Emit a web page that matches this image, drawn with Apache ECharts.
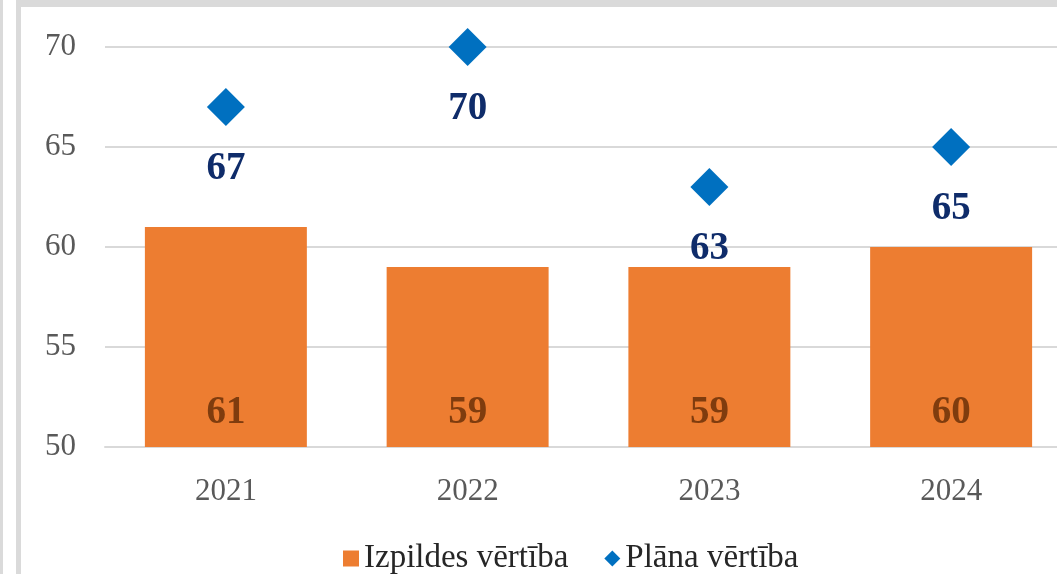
<!DOCTYPE html>
<html>
<head>
<meta charset="UTF-8">
<title>Izpildes un plāna vērtība</title>
<script src="https://cdn.jsdelivr.net/npm/echarts@6/dist/echarts.min.js"></script>
<style>
  html, body { margin: 0; padding: 0; background: #fff; }
  #main { width: 1057px; height: 574px; }
</style>
</head>
<body>
<div id="main"></div>
<script>
var years = ['2021', '2022', '2023', '2024'];
var actual = [61, 59, 59, 60];   // Izpildes vērtība
var plan = [67, 70, 63, 65];     // Plāna vērtība
var yTicks = { min: 50, max: 70, step: 5 };

var serif = "'Liberation Serif', 'Times New Roman', serif";
var myChart = echarts.init(document.getElementById('main'));

var option = {
  backgroundColor: '#fff',
  animation: false,
  // frame bits of the screenshot
  graphic: [
    { type: 'rect', shape: { x: 0, y: 0, width: 3, height: 574 }, style: { fill: '#dadada' } },
    { type: 'rect', shape: { x: 16, y: 0, width: 5, height: 574 }, style: { fill: '#dadada' } },
    { type: 'rect', shape: { x: 16, y: 0, width: 1041, height: 7 }, style: { fill: '#dadada' } }
  ],
  grid: {
    left: 105,
    right: -15,
    top: 47,
    bottom: 127,
    containLabel: false,
    outerBoundsMode: 'none'
  },
  legend: {
    left: 338,
    top: 537,
    itemWidth: 16,
    itemHeight: 16,
    itemGap: 36,
    textStyle: { fontFamily: serif, fontSize: 33, color: '#262626' },
    data: [
      { name: 'Izpildes vērtība', icon: 'rect' },
      { name: 'Plāna vērtība', icon: 'diamond' }
    ]
  },
  xAxis: {
    type: 'category',
    data: years,
    axisLine: { show: true, lineStyle: { color: '#d9d9d9', width: 2 } },
    axisTick: { show: false },
    axisLabel: { margin: 29, fontFamily: serif, fontSize: 31, color: '#595959' }
  },
  yAxis: {
    type: 'value',
    min: yTicks.min,
    max: yTicks.max,
    interval: yTicks.step,
    axisLine: { show: false },
    axisTick: { show: false },
    axisLabel: { margin: 29, fontFamily: serif, fontSize: 31, color: '#595959' },
    splitLine: { lineStyle: { color: '#d9d9d9', width: 2 } }
  },
  series: [
    {
      name: 'Izpildes vērtība',
      type: 'bar',
      data: actual,
      barWidth: '67%',
      itemStyle: { color: '#ED7D31' },
      label: {
        show: true,
        position: 'insideBottom',
        distance: 15,
        fontFamily: serif,
        fontSize: 39,
        fontWeight: 'bold',
        color: '#7f3c0e'
      }
    },
    {
      name: 'Plāna vērtība',
      type: 'scatter',
      data: plan,
      symbol: 'diamond',
      symbolSize: 38,
      itemStyle: { color: '#0070C0', opacity: 1 },
      z: 5,
      label: {
        show: true,
        position: 'bottom',
        distance: 23,
        fontFamily: serif,
        fontSize: 39,
        fontWeight: 'bold',
        color: '#0f2c6a'
      }
    }
  ]
};
myChart.setOption(option);
</script>
</body>
</html>
